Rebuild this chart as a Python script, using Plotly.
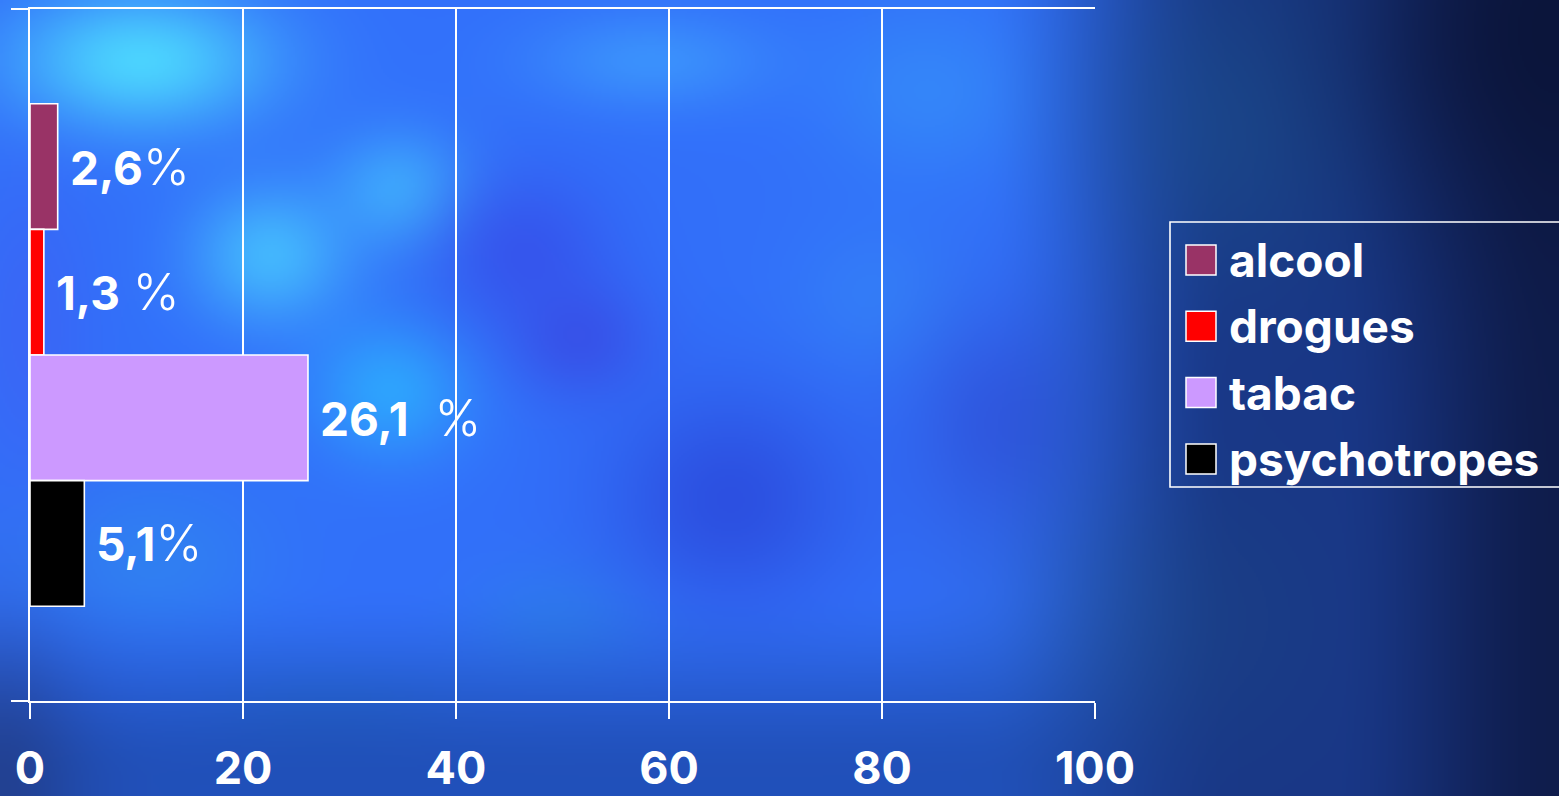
import base64
import struct
import zlib

import numpy as np
import plotly.graph_objects as go

# ---- data -------------------------------------------------------------
categories = ["alcool", "drogues", "tabac", "psychotropes"]
values = [2.6, 1.3, 26.1, 5.1]
value_labels = ["2,6", "1,3", "26,1", "5,1"]
label_gaps = ["", "\u00a0", "\u00a0\u00a0", ""]
colors = ["#993366", "#FF0000", "#CC99FF", "#000000"]
x_ticks = [0, 20, 40, 60, 80, 100]
x_tick_labels = ["0", "20", "40", "60", "80", "100"]

# ---- page geometry ----------------------------------------------------
W, H = 1559, 796
M_L, M_R, M_T, M_B = 30, 464, 9, 95
BARGAP = 0.274
FONT = "Inter"
WHITE = "#FFFFFF"


def png_data_uri(rgb):
    """Encode an HxWx3 uint8 array as a PNG data URI (no external libs)."""
    h, w, _ = rgb.shape
    raw = b"".join(b"\x00" + rgb[i].tobytes() for i in range(h))

    def chunk(tag, data):
        body = tag + data
        return struct.pack(">I", len(data)) + body + struct.pack(">I", zlib.crc32(body) & 0xFFFFFFFF)

    png = (b"\x89PNG\r\n\x1a\n"
           + chunk(b"IHDR", struct.pack(">IIBBBBB", w, h, 8, 2, 0, 0, 0))
           + chunk(b"IDAT", zlib.compress(raw, 9))
           + chunk(b"IEND", b""))
    return "data:image/png;base64," + base64.b64encode(png).decode()


def smooth(t):
    t = np.clip(t, 0.0, 1.0)
    return t * t * (3 - 2 * t)


def backdrop(w=780, h=398):
    """Cloudy blue slide backdrop built from smooth gaussian blobs."""
    xs = np.linspace(0, W, w)[None, :]
    ys = np.linspace(0, H, h)[:, None]
    img = np.zeros((h, w, 3)) + np.array([50, 112, 250.0])

    def mix(col, weight):
        nonlocal img
        wgt = np.clip(weight, 0, 1)[..., None]
        img = img * (1 - wgt) + np.array(col, float) * wgt

    def blob(cx, cy, rx, ry, col, strength):
        g = np.exp(-(((xs - cx) / rx) ** 2 + ((ys - cy) / ry) ** 2))
        mix(col, strength * g)

    # cyan highlights
    blob(140, 60, 130, 70, (80, 228, 255), 0.85)
    blob(270, 255, 80, 70, (75, 212, 255), 0.7)
    blob(400, 190, 70, 60, (70, 205, 255), 0.6)
    blob(390, 390, 80, 70, (45, 185, 255), 0.7)
    blob(650, 60, 120, 50, (70, 185, 255), 0.45)
    blob(930, 90, 110, 90, (55, 155, 250), 0.5)
    blob(880, 300, 90, 80, (55, 150, 245), 0.35)
    blob(150, 560, 120, 80, (45, 150, 230), 0.4)
    blob(330, 720, 120, 50, (30, 120, 200), 0.4)
    blob(560, 620, 90, 60, (40, 140, 220), 0.35)
    # deeper violet-blue patches
    blob(520, 250, 90, 80, (55, 70, 230), 0.6)
    blob(580, 340, 70, 60, (60, 60, 220), 0.5)
    blob(730, 500, 120, 110, (40, 55, 205), 0.55)
    blob(1000, 420, 90, 120, (45, 60, 195), 0.45)
    blob(30, 330, 60, 150, (70, 90, 240), 0.4)

    # bottom band darker
    mix((30, 75, 175), smooth((ys - 580) / 200) * 0.85)
    # right side fades to navy
    mix((25, 55, 135), smooth((xs - 980) / 260))
    blob(1230, 120, 140, 160, (30, 90, 150), 0.45)
    blob(1150, 620, 160, 140, (30, 80, 135), 0.35)
    mix((14, 26, 70), smooth((xs - 1330) / 230) * 0.9)
    blob(1540, 30, 200, 200, (10, 18, 52), 0.7)
    # dark bottom-left corner
    blob(0, 796, 80, 160, (35, 55, 120), 0.6)
    return np.clip(img, 0, 255).astype(np.uint8)


# ---- figure ------------------------------------------------------------
fig = go.Figure()

for name, val, col in zip(categories, values, colors):
    fig.add_trace(go.Bar(
        x=[val], y=[0], name=name, orientation="h",
        marker=dict(color=col, line=dict(color=WHITE, width=1.6)),
        showlegend=False, hoverinfo="x+name",
    ))

# value labels at the end of each bar
n = len(categories)
group = 1 - BARGAP
for i, (val, lab, gap) in enumerate(zip(values, value_labels, label_gaps)):
    y_center = -group / 2 + (i + 0.5) * group / n
    fig.add_annotation(
        x=val, y=y_center, xref="x", yref="y",
        text=(f"<b>{lab}</b>{gap}"
              "<span style='font-size:50px;font-weight:300'>%</span>"),
        showarrow=False, xanchor="left", yanchor="middle", xshift=10,
        font=dict(family=FONT, size=46, color=WHITE),
    )

# legend box drawn in paper space
plot_w = W - M_L - M_R
plot_h = H - M_T - M_B


def px_x(px):
    return (px - M_L) / plot_w


def px_y(py):
    return (H - M_B - py) / plot_h


LEG_X0, LEG_X1, LEG_Y0, LEG_Y1 = 1170, 1566, 222, 487
fig.add_shape(type="rect", xref="paper", yref="paper",
              x0=px_x(LEG_X0), x1=px_x(LEG_X1), y0=px_y(LEG_Y1), y1=px_y(LEG_Y0),
              line=dict(color=WHITE, width=1.6), fillcolor="rgba(0,0,0,0)")
ROW0, PITCH, SW = 260, 66.3, 30
for i, (name, col) in enumerate(zip(categories, colors)):
    cy = ROW0 + i * PITCH
    fig.add_shape(type="rect", xref="paper", yref="paper",
                  x0=px_x(1186), x1=px_x(1186 + SW),
                  y0=px_y(cy + SW / 2), y1=px_y(cy - SW / 2),
                  line=dict(color=WHITE, width=1.5), fillcolor=col)
    fig.add_annotation(x=px_x(1227), y=px_y(cy), xref="paper", yref="paper",
                       text=f"<b>{name}</b>", showarrow=False,
                       xanchor="left", yanchor="middle",
                       font=dict(family=FONT, size=46, color=WHITE))

fig.add_layout_image(dict(
    source=png_data_uri(backdrop()), xref="paper", yref="paper",
    x=px_x(0), y=px_y(0), sizex=W / plot_w, sizey=H / plot_h,
    xanchor="left", yanchor="top", sizing="stretch", layer="below",
))

fig.update_layout(
    width=W, height=H, autosize=False,
    margin=dict(l=M_L, r=M_R, t=M_T, b=M_B, pad=0, autoexpand=False),
    barmode="group", bargap=BARGAP, bargroupgap=0,
    paper_bgcolor="#1f4fb8", plot_bgcolor="rgba(0,0,0,0)",
    showlegend=False,
    xaxis=dict(
        range=[0, 100], tickmode="array", tickvals=x_ticks, ticktext=x_tick_labels,
        showgrid=True, gridcolor=WHITE, gridwidth=1.8,
        showline=True, linecolor=WHITE, linewidth=1.8, mirror=True,
        ticks="outside", ticklen=16, tickwidth=1.8, tickcolor=WHITE,
        tickfont=dict(family=FONT, size=45, color=WHITE, weight="bold"),
        ticklabelstandoff=11, zeroline=False, fixedrange=True, automargin=False,
    ),
    yaxis=dict(
        range=[0.5, -0.5], tickmode="array", tickvals=[-0.5, 0.5], ticktext=["", ""],
        showgrid=False, zeroline=False,
        showline=True, linecolor=WHITE, linewidth=1.8,
        ticks="outside", ticklen=17, tickwidth=1.8, tickcolor=WHITE,
        fixedrange=True, automargin=False,
    ),
)

fig.write_html("out.html")
